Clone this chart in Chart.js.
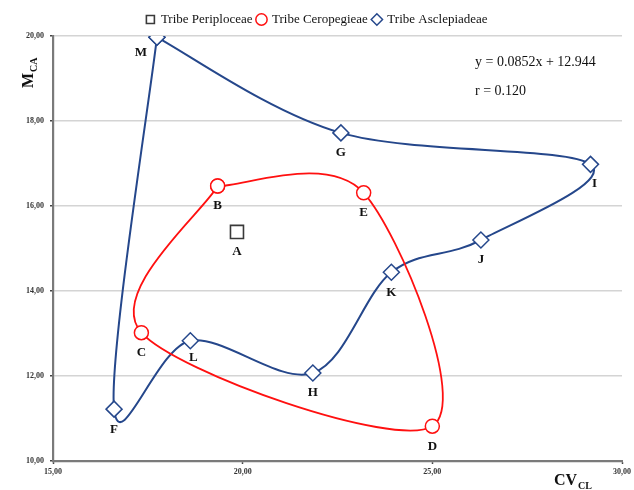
<!DOCTYPE html>
<html>
<head>
<meta charset="utf-8">
<script src="https://cdn.jsdelivr.net/npm/chart.js@4/dist/chart.umd.min.js"></script>
<style>
  html, body { margin: 0; padding: 0; background: #ffffff; }
  #wrap { width: 634px; height: 490px; position: relative; }
</style>
</head>
<body>
<div id="wrap"><canvas id="c"></canvas></div>
<script>
// Tribe Periploceae
const periplX = [19.85];
const periplY = [15.39];
const periplLabels = ['A'];

// Tribe Ceropegieae (closed outline, first point repeated at the end)
const ceropX = [19.34, 23.19, 25.00, 17.33, 19.34];
const ceropY = [16.47, 16.31, 10.82, 13.02, 16.47];
const ceropLabels = ['B', 'E', 'D', 'C', ''];

// Tribe Asclepiadeae (closed outline, first point repeated at the end)
const asclX = [17.74, 22.59, 29.17, 26.28, 23.92, 21.85, 18.62, 16.61, 17.74];
const asclY = [19.97, 17.72, 16.98, 15.20, 14.44, 12.07, 12.83, 11.22, 19.97];
const asclLabels = ['M', 'G', 'I', 'J', 'K', 'H', 'L', 'F', ''];

const xTicks = [15, 20, 25, 30];
const yTicks = [10, 12, 14, 16, 18, 20];
const regressionLines = ['y = 0.0852x + 12.944', 'r = 0.120'];

const SERIF = '"Liberation Serif", "Times New Roman", serif';
const BLUE = '#25478b';
const RED = '#ff1010';

function pts(xs, ys) { return xs.map((x, i) => ({ x: x, y: ys[i] })); }
function fmt(v) { return Number(v).toFixed(2).replace('.', ','); }

// Smoothed-line control points in the spreadsheet style: each handle is a
// sixth of the chord between the neighbours, capped at half the segment.
const smoothPlugin = {
  id: 'smoothLines',
  afterDatasetsUpdate(chart) {
    chart.data.datasets.forEach((ds, di) => {
      if (!ds.showLine) return;
      const meta = chart.getDatasetMeta(di);
      const p = meta.data;
      const n = p.length;
      for (let i = 0; i < n; i++) {
        const prev = p[Math.max(i - 1, 0)];
        const cur = p[i];
        const next = p[Math.min(i + 1, n - 1)];
        const tx = (next.x - prev.x) / 6;
        const ty = (next.y - prev.y) / 6;
        const tl = Math.hypot(tx, ty);
        const dPrev = Math.hypot(cur.x - prev.x, cur.y - prev.y);
        const dNext = Math.hypot(next.x - cur.x, next.y - cur.y);
        let sIn = 1, sOut = 1;
        if (tl > 0) {
          if (tl > dPrev / 2) sIn = dPrev / 2 / tl;
          if (tl > dNext / 2) sOut = dNext / 2 / tl;
        }
        cur.cp1x = cur.x - tx * sIn;
        cur.cp1y = cur.y - ty * sIn;
        cur.cp2x = cur.x + tx * sOut;
        cur.cp2y = cur.y + ty * sOut;
      }
      meta.dataset._pointsUpdated = true;
    });
  }
};

// point letters, drawn under each marker
const letterPlugin = {
  id: 'letters',
  afterDatasetsDraw(chart) {
    const ctx = chart.ctx;
    const shift = { I: [4, 19], L: [3, 17], M: [-16, 15] };
    ctx.save();
    ctx.font = 'bold 13px ' + SERIF;
    ctx.fillStyle = '#111';
    ctx.textAlign = 'center';
    ctx.textBaseline = 'middle';
    chart.data.datasets.forEach((ds, di) => {
      const meta = chart.getDatasetMeta(di);
      ds.letters.forEach((t, i) => {
        if (!t) return;
        const el = meta.data[i];
        const s = shift[t] || [0, 20];
        ctx.fillText(t, el.x + s[0], el.y + s[1]);
      });
    });
    ctx.restore();
  }
};

// axis titles with subscripts and the regression note
const textPlugin = {
  id: 'texts',
  afterDraw(chart) {
    const ctx = chart.ctx;
    ctx.save();
    ctx.fillStyle = '#111';
    ctx.textBaseline = 'alphabetic';
    ctx.textAlign = 'left';

    // y title: M with subscript CA, rotated
    ctx.save();
    ctx.translate(33, 88);
    ctx.rotate(-Math.PI / 2);
    ctx.font = 'bold 16px ' + SERIF;
    ctx.fillText('M', 0, 0);
    const mw = ctx.measureText('M').width;
    ctx.font = 'bold 10px ' + SERIF;
    ctx.fillText('CA', mw + 1, 4);
    ctx.restore();

    // x title: CV with subscript CL
    ctx.font = 'bold 16px ' + SERIF;
    ctx.fillText('CV', 554, 485);
    const cw = ctx.measureText('CV').width;
    ctx.font = 'bold 10px ' + SERIF;
    ctx.fillText('CL', 554 + cw + 1, 489);

    // regression note
    ctx.font = '14px ' + SERIF;
    ctx.textBaseline = 'middle';
    ctx.fillText(regressionLines[0], 475, 62);
    ctx.fillText(regressionLines[1], 475, 91);
    ctx.restore();
  }
};

new Chart(document.getElementById('c'), {
  type: 'scatter',
  data: {
    datasets: [
      {
        label: 'Tribe Periploceae',
        data: pts(periplX, periplY),
        letters: periplLabels,
        showLine: false,
        pointStyle: 'rect',
        pointRadius: 9.2,
        pointBorderWidth: 1.6,
        borderColor: '#3a3a3a',
        backgroundColor: '#ffffff',
        pointBackgroundColor: '#ffffff',
        pointBorderColor: '#3a3a3a'
      },
      {
        label: 'Tribe Ceropegieae',
        data: pts(ceropX, ceropY),
        letters: ceropLabels,
        showLine: true,
        tension: 0.4,
        borderWidth: 1.8,
        pointStyle: 'circle',
        pointRadius: 7,
        pointBorderWidth: 1.5,
        borderColor: RED,
        backgroundColor: '#ffffff',
        pointBackgroundColor: '#ffffff',
        pointBorderColor: RED
      },
      {
        label: 'Tribe Asclepiadeae',
        data: pts(asclX, asclY),
        letters: asclLabels,
        showLine: true,
        tension: 0.4,
        borderWidth: 2,
        pointStyle: 'rectRot',
        pointRadius: 8,
        pointBorderWidth: 1.5,
        borderColor: BLUE,
        backgroundColor: '#ffffff',
        pointBackgroundColor: '#ffffff',
        pointBorderColor: BLUE
      }
    ]
  },
  options: {
    responsive: true,
    maintainAspectRatio: false,
    animation: false,
    layout: { padding: { left: 0, right: 0, top: 8, bottom: 0 } },
    elements: { line: { capBezierPoints: false } },
    plugins: {
      legend: {
        display: true,
        position: 'top',
        labels: {
          usePointStyle: true,
          boxWidth: 8,
          boxHeight: 8,
          padding: 5,
          color: '#111',
          font: { family: SERIF, size: 13 }
        }
      },
      tooltip: { enabled: false }
    },
    scales: {
      x: {
        type: 'linear',
        min: 15,
        max: 30,
        afterBuildTicks: s => { s.ticks = xTicks.map(v => ({ value: v })); },
        afterFit: s => { s.height = 29; },
        ticks: {
          callback: v => fmt(v),
          maxRotation: 0,
          padding: 3,
          color: '#333',
          font: { family: SERIF, size: 8, weight: 'bold' }
        },
        grid: { display: true, drawOnChartArea: false, drawTicks: true, tickLength: 3, tickColor: '#444', tickWidth: 1.5 },
        border: { display: true, color: '#7a7a7a', width: 2.2 }
      },
      y: {
        type: 'linear',
        min: 10,
        max: 20,
        afterBuildTicks: s => { s.ticks = yTicks.map(v => ({ value: v })); },
        afterFit: s => { s.width = 53; },
        ticks: {
          callback: v => fmt(v),
          padding: 6,
          color: '#333',
          font: { family: SERIF, size: 8, weight: 'bold' }
        },
        grid: { display: true, color: '#d4d4d4', lineWidth: 1.5, drawTicks: true, tickLength: 3, tickColor: '#444', tickWidth: 1.5 },
        border: { display: true, color: '#7a7a7a', width: 2.2 }
      }
    }
  },
  plugins: [smoothPlugin, letterPlugin, textPlugin]
});
</script>
</body>
</html>
